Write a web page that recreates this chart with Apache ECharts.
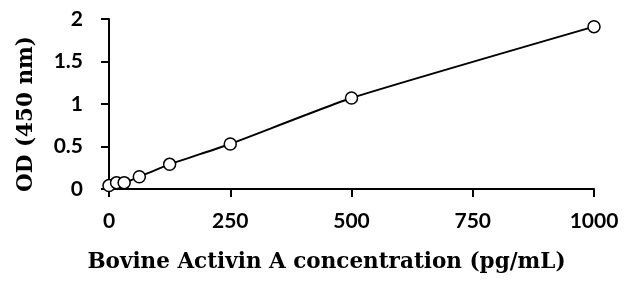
<!DOCTYPE html>
<html><head><meta charset="utf-8">
<script src="https://cdn.jsdelivr.net/npm/echarts@6/dist/echarts.min.js"></script>
<style>html,body{margin:0;padding:0;background:#fff}#c{width:625px;height:285px}</style>
</head><body><div id="c"></div>
<script>
const concentrations = [0, 15.6, 31.25, 62.5, 125, 250, 500, 1000];
const odValues = [0.04, 0.075, 0.075, 0.145, 0.29, 0.53, 1.07, 1.91];
const xTicks = [0, 250, 500, 750, 1000];
const yTicks = [0, 0.5, 1, 1.5, 2];
const xTitle = 'Bovine Activin A concentration (pg/mL)';
const yTitle = 'OD (450 nm)';

const chart = echarts.init(document.getElementById('c'));
const pts = concentrations.map((c, i) => [c, odValues[i]]);
const tickFont = {fontFamily: 'Lato', fontWeight: 'bold', fontSize: 21, color: '#000'};
const titleFont = {fontFamily: 'DejaVu Serif', fontWeight: 'bold', fontSize: 21.5, color: '#000'};
chart.setOption({
  animation: false,
  grid: {left: 109, right: 31, top: 19, bottom: 96},
  xAxis: {
    type: 'value', min: 0, max: 1000, interval: 250,
    name: xTitle, nameLocation: 'middle', nameGap: 62,
    nameTextStyle: Object.assign({padding: [0, 50, 0, 0]}, titleFont),
    axisLine: {lineStyle: {color: '#000', width: 2}},
    axisTick: {show: true, length: 8, lineStyle: {color: '#000', width: 2}},
    axisLabel: Object.assign({margin: 22, formatter: v => String(v)}, tickFont),
    splitLine: {show: false}
  },
  yAxis: {
    type: 'value', min: 0, max: 2, interval: 0.5,
    name: yTitle, nameLocation: 'middle', nameGap: 72,
    nameTextStyle: Object.assign({padding: [0, 20, 0, 0]}, titleFont),
    axisLine: {show: true, lineStyle: {color: '#000', width: 2}},
    axisTick: {show: true, length: 8, lineStyle: {color: '#000', width: 2}},
    axisLabel: Object.assign({margin: 26, formatter: v => String(v)}, tickFont),
    splitLine: {show: false}
  },
  series: [{
    type: 'line', data: pts, smooth: 0.15,
    symbol: 'circle', symbolSize: 12,
    lineStyle: {color: '#000', width: 2},
    itemStyle: {color: '#fff', borderColor: '#000', borderWidth: 1.5}
  }]
});
</script></body></html>
